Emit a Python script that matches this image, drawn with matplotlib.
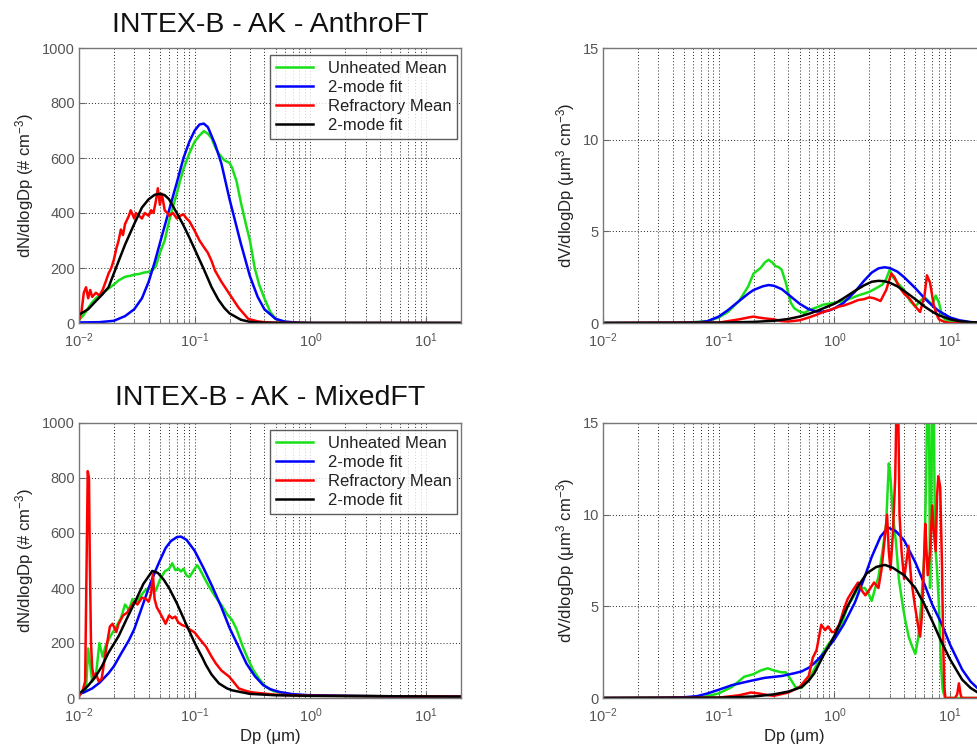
import numpy as np
import matplotlib
matplotlib.use('Agg')
import matplotlib.pyplot as plt
from matplotlib.ticker import LogLocator, NullFormatter

plt.rcParams['font.family'] = ['Liberation Sans', 'DejaVu Sans']
plt.rcParams['axes.unicode_minus'] = False
plt.rcParams['mathtext.default'] = 'regular'

# ---------------- AnthroFT, number distribution ----------------
an_green_dp = [0.010, 0.011, 0.012, 0.013, 0.014, 0.016, 0.018, 0.020, 0.022, 0.025, 0.028, 0.030, 0.033,
               0.036, 0.040, 0.043, 0.046, 0.050, 0.055, 0.060, 0.065, 0.070, 0.075, 0.080, 0.090, 0.100,
               0.110, 0.120, 0.130, 0.140, 0.150, 0.160, 0.180, 0.200, 0.210, 0.230, 0.250, 0.280, 0.300,
               0.330, 0.360, 0.400, 0.450, 0.500, 0.600, 0.800, 1.0, 2.0, 5.0, 10.0, 20.0]
an_green_n = [10, 30, 55, 75, 90, 110, 125, 140, 155, 168, 172, 176, 178, 183, 186, 192, 205, 255, 300, 370,
              425, 470, 520, 560, 618, 660, 682, 698, 688, 672, 640, 618, 592, 582, 565, 515, 440, 350, 300,
              200, 140, 90, 40, 15, 4, 1, 0, 0, 0, 0, 0]

an_blue_dp = [0.010, 0.015, 0.020, 0.025, 0.030, 0.035, 0.040, 0.045, 0.050, 0.060, 0.070, 0.080, 0.090,
              0.100, 0.110, 0.120, 0.130, 0.150, 0.170, 0.200, 0.250, 0.300, 0.350, 0.400, 0.500, 0.600,
              0.800, 1.0, 20.0]
an_blue_n = [2, 3, 8, 25, 50, 90, 150, 220, 290, 410, 510, 600, 660, 700, 722, 725, 712, 650, 580, 450, 290,
             170, 95, 50, 15, 5, 1, 0, 0]

an_red_dp = [0.0100, 0.0105, 0.0110, 0.0115, 0.0120, 0.0125, 0.0130, 0.0140, 0.0150, 0.0160, 0.0170,
             0.0180, 0.0190, 0.0200, 0.0210, 0.0220, 0.0230, 0.0240, 0.0250, 0.0270, 0.0280, 0.0300,
             0.0310, 0.0330, 0.0350, 0.0370, 0.0400, 0.0420, 0.0440, 0.0460, 0.0480, 0.0500, 0.0520,
             0.0550, 0.0580, 0.0600, 0.0650, 0.0700, 0.0750, 0.0800, 0.0850, 0.0900, 0.1000, 0.1100,
             0.1200, 0.1300, 0.1400, 0.1500, 0.1700, 0.2000, 0.2400, 0.2900, 0.3500, 0.4000, 0.5000,
             1.0, 20.0]
an_red_n = [10, 40, 110, 130, 90, 120, 95, 110, 100, 120, 150, 180, 200, 230, 270, 300, 340, 320, 360, 390,
            410, 380, 400, 390, 380, 400, 390, 410, 400, 440, 490, 430, 470, 410, 400, 390, 400, 380, 390,
            395, 380, 370, 335, 300, 276, 255, 225, 190, 150, 105, 55, 15, 6, 3, 1, 0, 0]

an_black_dp = [0.010, 0.012, 0.014, 0.016, 0.018, 0.020, 0.022, 0.025, 0.030, 0.035, 0.040, 0.045, 0.050,
               0.055, 0.060, 0.070, 0.080, 0.090, 0.100, 0.120, 0.140, 0.160, 0.180, 0.200, 0.250, 0.300,
               0.400, 1.0, 20.0]
an_black_n = [30, 50, 80, 105, 130, 180, 225, 285, 360, 420, 450, 466, 470, 465, 450, 400, 355, 310, 268,
              195, 130, 85, 55, 35, 12, 4, 1, 0, 0]

# ---------------- AnthroFT, volume distribution ----------------
av_green_dp = [0.010, 0.050, 0.080, 0.100, 0.120, 0.150, 0.180, 0.200, 0.230, 0.250, 0.270, 0.290, 0.310,
               0.330, 0.350, 0.380, 0.400, 0.420, 0.450, 0.500, 0.550, 0.600, 0.700, 0.800, 1.0, 1.2, 1.4,
               1.6, 1.8, 2.0, 2.3, 2.6, 2.8, 3.0, 3.2, 3.5, 4.0, 4.5, 5.0, 5.5, 6.0, 6.5, 7.0, 7.5, 8.0,
               8.5, 9.0, 10.0, 20.0]
av_green_v = [0.0, 0.01, 0.1, 0.3, 0.6, 1.2, 2.0, 2.7, 3.0, 3.3, 3.45, 3.3, 3.1, 3.05, 2.9, 2.2, 1.6, 1.1,
              0.8, 0.62, 0.55, 0.7, 0.85, 1.0, 1.1, 1.2, 1.35, 1.5, 1.6, 1.7, 1.9, 2.1, 2.4, 2.9, 2.5, 2.2,
              1.8, 1.2, 0.9, 1.2, 1.4, 1.2, 1.0, 1.5, 1.1, 0.4, 0.2, 0.05, 0.0]

av_blue_dp = [0.010, 0.050, 0.070, 0.080, 0.100, 0.120, 0.150, 0.180, 0.200, 0.240, 0.270, 0.300, 0.350,
              0.400, 0.500, 0.600, 0.700, 0.800, 0.900, 1.0, 1.2, 1.5, 1.8, 2.1, 2.4, 2.7, 3.0, 3.5, 4.0,
              5.0, 6.0, 7.0, 8.0, 10.0, 12.0, 15.0, 20.0]
av_blue_v = [0.0, 0.01, 0.05, 0.1, 0.35, 0.7, 1.2, 1.6, 1.8, 2.0, 2.07, 2.03, 1.85, 1.55, 1.05, 0.75, 0.63,
             0.62, 0.68, 0.8, 1.1, 1.7, 2.3, 2.75, 2.98, 3.04, 3.0, 2.8, 2.5, 1.9, 1.35, 0.95, 0.65, 0.3,
             0.15, 0.05, 0.01]

av_red_dp = [0.010, 0.100, 0.120, 0.150, 0.180, 0.200, 0.220, 0.250, 0.300, 0.350, 0.400, 0.500, 0.600,
             0.700, 0.800, 0.900, 1.0, 1.1, 1.2, 1.4, 1.6, 1.8, 2.0, 2.2, 2.5, 2.8, 3.1, 3.3, 3.6, 4.0,
             4.5, 5.0, 5.5, 6.0, 6.3, 6.7, 7.2, 7.6, 8.0, 9.0, 10.0, 20.0]
av_red_v = [0.0, 0.02, 0.1, 0.2, 0.3, 0.35, 0.3, 0.25, 0.2, 0.1, 0.08, 0.15, 0.3, 0.45, 0.6, 0.7, 0.8, 0.9,
            0.95, 1.1, 1.25, 1.3, 1.4, 1.35, 1.2, 1.8, 2.7, 2.5, 2.0, 1.6, 1.3, 0.9, 0.6, 1.5, 2.6, 2.2,
            1.0, 0.5, 0.2, 0.05, 0.0, 0.0]

av_black_dp = [0.010, 0.100, 0.200, 0.300, 0.400, 0.500, 0.600, 0.700, 0.800, 1.0, 1.2, 1.5, 1.8, 2.1,
               2.4, 2.7, 3.0, 3.5, 4.0, 5.0, 6.0, 7.0, 8.0, 10.0, 12.0, 15.0, 20.0]
av_black_v = [0.0, 0.02, 0.06, 0.12, 0.22, 0.35, 0.5, 0.65, 0.8, 1.05, 1.35, 1.75, 2.05, 2.25, 2.3, 2.28,
              2.2, 2.0, 1.75, 1.3, 0.9, 0.62, 0.42, 0.2, 0.1, 0.04, 0.01]

# ---------------- MixedFT, number distribution ----------------
mn_green_dp = [0.0100, 0.0115, 0.0120, 0.0125, 0.0130, 0.0140, 0.0150, 0.0160, 0.0170, 0.0190, 0.0210,
               0.0230, 0.0250, 0.0270, 0.0290, 0.0310, 0.0340, 0.0370, 0.0400, 0.0430, 0.0460, 0.0500,
               0.0550, 0.0600, 0.0640, 0.0680, 0.0720, 0.0760, 0.0800, 0.0850, 0.0900, 0.0950, 0.1000,
               0.1050, 0.1100, 0.1200, 0.1330, 0.1500, 0.1740, 0.1900, 0.2100, 0.2300, 0.2600, 0.2900,
               0.3200, 0.3600, 0.4100, 0.4800, 0.5800, 0.8000, 1.0, 20.0]
mn_green_n = [10, 30, 180, 120, 60, 80, 200, 150, 190, 230, 260, 290, 340, 320, 360, 345, 370, 390, 400,
              410, 390, 430, 460, 470, 490, 465, 470, 460, 470, 445, 440, 455, 470, 483, 470, 440, 405,
              370, 332, 305, 284, 250, 187, 140, 102, 70, 41, 25, 17, 10, 8, 5]

mn_blue_dp = [0.010, 0.011, 0.013, 0.015, 0.018, 0.020, 0.023, 0.027, 0.030, 0.035, 0.040, 0.046, 0.050,
              0.056, 0.062, 0.070, 0.076, 0.085, 0.100, 0.120, 0.142, 0.170, 0.200, 0.240, 0.280, 0.330,
              0.390, 0.450, 0.540, 0.700, 1.0, 2.0, 5.0, 10.0, 20.0]
mn_blue_n = [15, 20, 35, 55, 90, 115, 160, 210, 250, 330, 400, 465, 500, 545, 570, 585, 587, 575, 535,
             470, 405, 330, 255, 185, 125, 80, 47, 32, 22, 14, 10, 8, 6, 5, 5]

mn_red_dp = [0.0100, 0.0108, 0.0113, 0.0116, 0.0119, 0.0122, 0.0124, 0.0127, 0.0130, 0.0135, 0.0140,
             0.0148, 0.0157, 0.0165, 0.0175, 0.0185, 0.0195, 0.0210, 0.0220, 0.0240, 0.0260, 0.0280,
             0.0300, 0.0320, 0.0350, 0.0380, 0.0400, 0.0420, 0.0435, 0.0450, 0.0470, 0.0500, 0.0530,
             0.0560, 0.0600, 0.0640, 0.0680, 0.0720, 0.0780, 0.0840, 0.0900, 0.1000, 0.1100, 0.1250,
             0.1400, 0.1520, 0.1700, 0.1980, 0.2200, 0.2400, 0.2800, 0.3200, 0.5000, 1.0, 20.0]
mn_red_n = [5, 30, 60, 450, 825, 800, 500, 200, 110, 70, 90, 60, 70, 130, 200, 260, 270, 240, 270, 300,
            310, 330, 350, 340, 365, 360, 350, 380, 450, 360, 330, 310, 290, 270, 300, 290, 296, 275, 265,
            260, 250, 238, 215, 187, 150, 126, 100, 78, 55, 35, 25, 20, 12, 8, 5]

mn_black_dp = [0.0100, 0.0106, 0.0120, 0.0140, 0.0157, 0.0180, 0.0220, 0.0260, 0.0310, 0.0360, 0.0430,
               0.0480, 0.0540, 0.0600, 0.0700, 0.0840, 0.1000, 0.1170, 0.1250, 0.1400, 0.1620, 0.1900,
               0.2100, 0.3000, 0.5000, 1.0, 20.0]
mn_black_n = [18, 23, 45, 80, 114, 165, 225, 290, 356, 415, 462, 455, 430, 400, 345, 270, 200, 145, 120,
              85, 53, 35, 28, 15, 10, 8, 5]

# ---------------- MixedFT, volume distribution ----------------
mv_green_dp = [0.010, 0.070, 0.100, 0.130, 0.166, 0.200, 0.230, 0.265, 0.300, 0.350, 0.380, 0.420, 0.460,
               0.520, 0.600, 0.700, 0.800, 0.900, 1.0, 1.15, 1.3, 1.45, 1.6, 1.83, 2.0, 2.1, 2.25, 2.4,
               2.6, 2.8, 2.95, 3.05, 3.2, 3.4, 3.6, 3.9, 4.1, 4.4, 4.7, 5.0, 5.3, 5.6, 6.0, 6.2, 6.35,
               6.55, 6.7, 6.85, 7.0, 7.2, 7.4, 7.7, 8.0, 8.3, 8.6, 9.0, 20.0]
mv_green_v = [0.0, 0.02, 0.25, 0.6, 1.16, 1.3, 1.5, 1.62, 1.5, 1.4, 1.4, 1.0, 0.6, 0.55, 1.0, 1.8, 2.5,
              3.0, 3.3, 4.0, 5.0, 5.5, 6.0, 6.0, 5.6, 5.3, 6.0, 6.6, 8.0, 9.5, 12.8, 12.0, 10.0, 8.5, 6.5,
              5.0, 4.2, 3.3, 2.8, 2.4, 3.3, 5.0, 7.9, 12.0, 16.5, 16.5, 6.0, 10.0, 16.5, 16.5, 8.5, 7.0,
              5.0, 2.0, 0.5, 0.0, 0.0]

mv_blue_dp = [0.010, 0.030, 0.050, 0.065, 0.080, 0.100, 0.130, 0.178, 0.250, 0.350, 0.450, 0.520, 0.600,
              0.670, 0.800, 1.0, 1.2, 1.5, 1.8, 2.1, 2.5, 2.9, 3.4, 4.0, 5.0, 6.0, 7.0, 8.5, 10.0, 12.7,
              15.0, 17.8, 20.0]
mv_blue_v = [0.0, 0.01, 0.04, 0.1, 0.25, 0.45, 0.7, 0.9, 1.1, 1.2, 1.35, 1.45, 1.65, 1.9, 2.4, 3.2, 4.0,
             5.2, 6.5, 7.7, 8.8, 9.3, 9.1, 8.6, 7.4, 6.2, 5.1, 4.0, 2.9, 1.55, 0.9, 0.45, 0.3]

mv_red_dp = [0.010, 0.100, 0.150, 0.190, 0.220, 0.270, 0.300, 0.400, 0.500, 0.600, 0.650, 0.700, 0.770,
             0.830, 0.880, 0.950, 1.0, 1.1, 1.2, 1.3, 1.45, 1.6, 1.75, 1.85, 2.0, 2.2, 2.4, 2.55, 2.7,
             2.85, 2.95, 3.05, 3.2, 3.35, 3.45, 3.55, 3.65, 3.8, 4.0, 4.2, 4.36, 4.6, 4.97, 5.2, 5.5,
             5.7, 5.9, 6.1, 6.25, 6.4, 6.7, 7.0, 7.2, 7.5, 7.7, 7.9, 8.2, 8.5, 8.7, 8.9, 9.1, 11.0,
             11.5, 11.9, 12.3, 12.6, 20.0]
mv_red_v = [0.0, 0.02, 0.15, 0.3, 0.25, 0.15, 0.12, 0.3, 0.6, 1.2, 2.2, 2.6, 4.0, 3.7, 3.9, 3.6, 3.6, 4.0,
            4.8, 5.4, 5.9, 6.3, 5.8, 5.6, 5.9, 6.3, 6.0, 7.0, 8.5, 10.0, 8.0, 7.0, 9.0, 12.0, 16.5, 16.5,
            10.0, 8.0, 6.5, 7.5, 8.3, 6.5, 5.0, 4.2, 3.35, 4.5, 7.0, 9.5, 8.0, 6.7, 8.0, 10.5, 9.2, 8.0,
            11.0, 12.1, 11.5, 7.2, 3.0, 0.6, 0.0, 0.0, 0.2, 0.8, 0.2, 0.0, 0.0]

mv_black_dp = [0.010, 0.100, 0.200, 0.300, 0.400, 0.520, 0.600, 0.670, 0.800, 1.0, 1.3, 1.6, 1.9, 2.3,
               2.73, 3.2, 4.0, 5.0, 6.0, 7.0, 8.5, 10.0, 12.7, 15.0, 17.8, 20.0]
mv_black_v = [0.0, 0.02, 0.08, 0.2, 0.35, 0.6, 0.95, 1.35, 2.3, 3.4, 5.0, 6.1, 6.8, 7.15, 7.26, 7.1, 6.7,
              6.0, 5.1, 4.2, 3.0, 2.1, 1.0, 0.55, 0.25, 0.15]

legend_labels = ['Unheated Mean', '2-mode fit', 'Refractory Mean', '2-mode fit']
colors = ['#18e018', '#0000ff', '#ff0000', '#000000']

W, H = 977, 748
fig = plt.figure(figsize=(W / 100, H / 100), dpi=100)


def make_ax(x0, y_top, ymax, yticks, ylabel, xlabel=None):
    ax = fig.add_axes([x0 / W, 1 - (y_top + 275) / H, 382 / W, 275 / H])
    ax.set_xscale('log')
    ax.set_xlim(0.01, 20)
    ax.set_ylim(0, ymax)
    ax.set_yticks(yticks)
    ax.xaxis.set_major_locator(LogLocator(base=10, numticks=10))
    ax.xaxis.set_minor_locator(LogLocator(base=10, subs=np.arange(2, 10), numticks=20))
    ax.xaxis.set_minor_formatter(NullFormatter())
    ax.grid(True, which='major', axis='both', color='#222222', linestyle=(0, (1, 2.2)), linewidth=0.7)
    ax.grid(True, which='minor', axis='x', color='#222222', linestyle=(0, (1, 2.2)), linewidth=0.7)
    ax.tick_params(which='both', direction='in', labelsize=10.5, labelcolor='#555555', color='#666666')
    ax.tick_params(which='major', length=4)
    ax.tick_params(which='minor', length=2)
    ax.tick_params(axis='x', which='major', pad=6)
    ax.tick_params(axis='y', which='major', pad=3)
    for s in ax.spines.values():
        s.set_color('#777777')
        s.set_linewidth(1.0)
    ax.set_ylabel(ylabel, fontsize=12, color='#222222', labelpad=4)
    if xlabel:
        ax.set_xlabel(xlabel, fontsize=12, color='#222222', labelpad=3)
    return ax


def draw(ax, curves):
    for (dp, val), c in zip(curves, colors):
        ax.plot(dp, val, color=c, linewidth=1.8)


nlab = 'dN/dlogDp (# cm$^{-3}$)'
vlab = 'dV/dlogDp (\u03bcm$^{3}$ cm$^{-3}$)'
xlab = 'Dp (\u03bcm)'

ax1 = make_ax(79, 48, 1000, [0, 200, 400, 600, 800, 1000], nlab)
draw(ax1, [(an_green_dp, an_green_n), (an_blue_dp, an_blue_n), (an_red_dp, an_red_n), (an_black_dp, an_black_n)])
ax2 = make_ax(603, 48, 15, [0, 5, 10, 15], vlab)
draw(ax2, [(av_green_dp, av_green_v), (av_blue_dp, av_blue_v), (av_red_dp, av_red_v), (av_black_dp, av_black_v)])
ax3 = make_ax(79, 423, 1000, [0, 200, 400, 600, 800, 1000], nlab, xlab)
draw(ax3, [(mn_green_dp, mn_green_n), (mn_blue_dp, mn_blue_n), (mn_red_dp, mn_red_n), (mn_black_dp, mn_black_n)])
ax4 = make_ax(603, 423, 15, [0, 5, 10, 15], vlab, xlab)
draw(ax4, [(mv_green_dp, mv_green_v), (mv_blue_dp, mv_blue_v), (mv_red_dp, mv_red_v), (mv_black_dp, mv_black_v)])

for ax in (ax1, ax3):
    leg = ax.legend(ax.lines, legend_labels, loc='upper right', bbox_to_anchor=(0.99, 0.975),
                    fontsize=12, frameon=True, fancybox=False, handlelength=2.2, handletextpad=0.9,
                    borderpad=0.35, labelspacing=0.25, borderaxespad=0.0)
    leg.get_frame().set_edgecolor('#333333')
    leg.get_frame().set_linewidth(1.0)
    for t in leg.get_texts():
        t.set_color('#222222')

fig.text(270 / W, 1 - 25 / H, 'INTEX-B - AK - AnthroFT', ha='center', va='center', fontsize=20.5, color='#111111')
fig.text(270 / W, 1 - 398 / H, 'INTEX-B - AK - MixedFT', ha='center', va='center', fontsize=20.5, color='#111111')

fig.savefig('out.png', dpi=100, facecolor='white')
